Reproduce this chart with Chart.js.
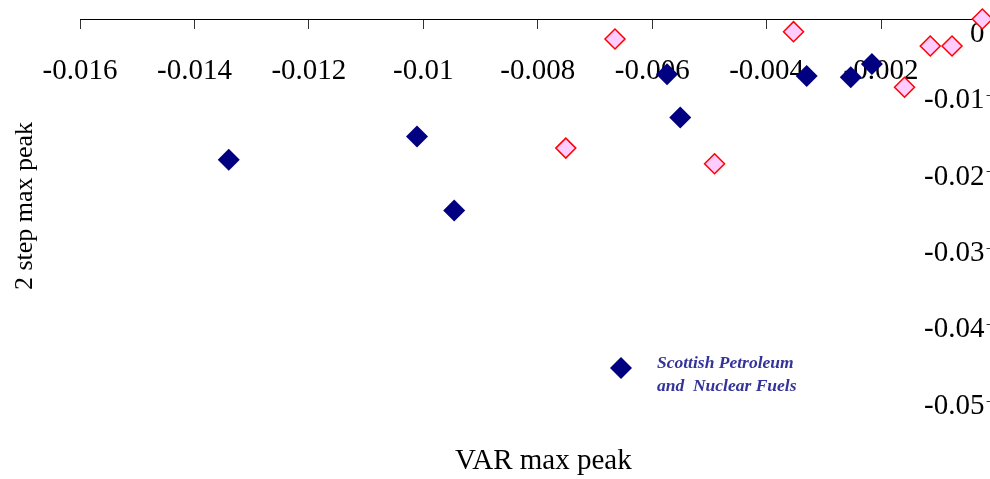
<!DOCTYPE html>
<html>
<head>
<meta charset="utf-8">
<title>VAR max peak vs 2 step max peak</title>
<script src="https://cdn.jsdelivr.net/npm/chart.js@4.4.1/dist/chart.umd.min.js"></script>
<style>
  html, body { margin: 0; padding: 0; background: #fff; overflow: hidden; }
  #wrap { position: relative; width: 1010px; height: 479px; }
</style>
</head>
<body>
<div id="wrap"><canvas id="scatterChart" width="1010" height="479"></canvas></div>
<script>
// values
var spnfX = [-0.0134, -0.01011, -0.00946, -0.00574, -0.00551, -0.0033, -0.00253, -0.00216];
var spnfY = [-0.01843, -0.01539, -0.02506, -0.00723, -0.0129, -0.00745, -0.00762, -0.00588];
var otherX = [-0.00665, -0.00751, -0.00491, -0.00353, -0.00159, -0.00114, -0.00076, -0.00023];
var otherY = [-0.00261, -0.0169, -0.01895, -0.00166, -0.00893, -0.00353, -0.00353, 0];

var spnfLabel = ['Scottish Petroleum', 'and  Nuclear Fuels'];
var xTitle = 'VAR max peak';
var yTitle = '2 step max peak';
var xMin = -0.016, xMax = 0, xStep = 0.002;
var yMin = -0.05, yMax = 0, yStep = 0.01;

function toPoints(xs, ys) {
  return xs.map(function (x, i) { return { x: x, y: ys[i] }; });
}

var serif = '"Liberation Serif", "Times New Roman", serif';

// axis titles and the one-entry legend sit at fixed spots, like in the original
var overlay = {
  id: 'overlay',
  afterDraw: function (chart) {
    var ctx = chart.ctx;
    ctx.save();
    ctx.fillStyle = '#000';
    ctx.textBaseline = 'alphabetic';
    ctx.font = '29px ' + serif;
    ctx.textAlign = 'left';
    ctx.fillText(xTitle, 455, 469);

    ctx.save();
    ctx.translate(32, 206);
    ctx.rotate(-Math.PI / 2);
    ctx.font = '26px ' + serif;
    ctx.textAlign = 'center';
    ctx.fillText(yTitle, 0, 0);
    ctx.restore();

    // legend marker
    var ds = chart.data.datasets[0];
    var cx = 621, cy = 368, r = 11;
    ctx.beginPath();
    ctx.moveTo(cx, cy - r);
    ctx.lineTo(cx + r, cy);
    ctx.lineTo(cx, cy + r);
    ctx.lineTo(cx - r, cy);
    ctx.closePath();
    ctx.fillStyle = ds.backgroundColor;
    ctx.fill();

    ctx.fillStyle = '#333399';
    ctx.font = 'italic bold 17.5px ' + serif;
    ctx.textAlign = 'left';
    ctx.fillText(spnfLabel[0], 657, 368);
    ctx.fillText(spnfLabel[1], 657, 391);
    ctx.restore();
  }
};

var ctx = document.getElementById('scatterChart').getContext('2d');
var myChart = new Chart(ctx, {
  type: 'scatter',
  data: {
    datasets: [{
      label: spnfLabel.join(' '),
      data: toPoints(spnfX, spnfY),
      pointStyle: 'rectRot',
      pointRadius: 11,
      pointHoverRadius: 11,
      backgroundColor: '#000080',
      borderColor: '#000080',
      borderWidth: 0,
      clip: false
    }, {
      label: 'other',
      data: toPoints(otherX, otherY),
      pointStyle: 'rectRot',
      pointRadius: 10,
      pointHoverRadius: 10,
      backgroundColor: '#ffccff',
      borderColor: '#ff0000',
      borderWidth: 1.5,
      clip: false
    }]
  },
  options: {
    responsive: false,
    animation: false,
    events: [],
    layout: { padding: { left: 80, right: 14.5, top: 19, bottom: 78 } },
    plugins: {
      legend: { display: false },
      tooltip: { enabled: false }
    },
    scales: {
      x: {
        type: 'linear',
        axis: 'x',
        position: { y: 0 },
        min: xMin,
        max: xMax,
        afterFit: function (scale) {
          scale.height = 0;
          scale.paddingLeft = 0;
          scale.paddingRight = 0;
        },
        border: { color: '#000', width: 1 },
        grid: { drawOnChartArea: false, color: '#333', tickLength: 9 },
        ticks: {
          stepSize: xStep,
          padding: 26,
          maxRotation: 0,
          autoSkip: false,
          color: '#000',
          font: { family: serif, size: 29 },
          callback: function (v) { return v === 0 ? null : String(+v.toFixed(3)); }
        }
      },
      y: {
        type: 'linear',
        position: 'right',
        min: yMin,
        max: yMax,
        afterFit: function (scale) {
          scale.width = 0;
          scale.paddingTop = 0;
          scale.paddingBottom = 0;
        },
        border: { color: '#000', width: 1 },
        // negative length turns the tick marks inward, as in the original
        grid: { drawOnChartArea: false, color: '#333', tickLength: -9 },
        ticks: {
          stepSize: yStep,
          mirror: true,
          padding: -11,
          color: '#000',
          font: { family: serif, size: 29, lineHeight: '10.5px' },
          // labels sit a little below their ticks, the 0 well below the x axis line
          callback: function (v) {
            return v === 0 ? ['', '', '', '0'] : ['', String(+v.toFixed(2))];
          }
        }
      }
    }
  },
  plugins: [overlay]
});
</script>
</body>
</html>
